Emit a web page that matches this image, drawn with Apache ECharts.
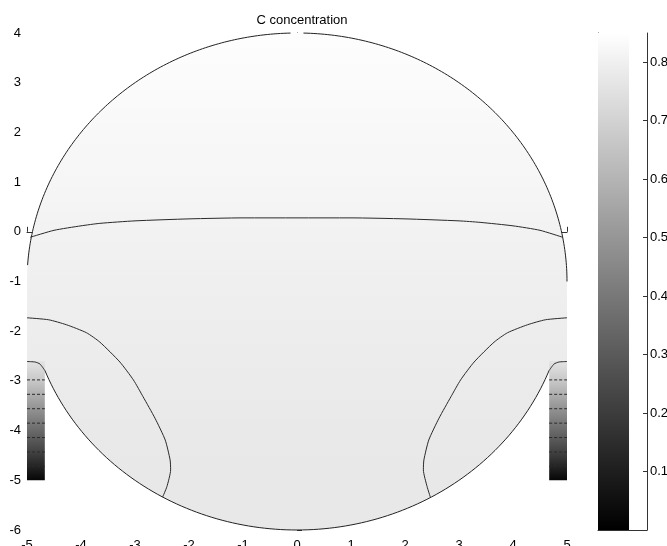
<!DOCTYPE html>
<html>
<head>
<meta charset="utf-8">
<script src="https://cdn.jsdelivr.net/npm/echarts@6/dist/echarts.min.js"></script>
<style>
  html, body { margin: 0; padding: 0; background: #fff; }
  #chart { width: 667px; height: 546px; }
</style>
</head>
<body>
<div id="chart"></div>
<script>
// 刻度
const xTicks = [-5, -4, -3, -2, -1, 0, 1, 2, 3, 4, 5];
const yTicks = [-6, -5, -4, -3, -2, -1, 0, 1, 2, 3, 4];
const cbarTicks = [0.1, 0.2, 0.3, 0.4, 0.5, 0.6, 0.7, 0.8];
const cbarMin = 0;
const cbarMax = 0.85;

// C 在圆内的竖直分布 (从图中颜色估读)
const profileY = [4, 3, 2, 1, 0.27, -1, -2, -3, -4, -5, -6];
const profileC = [0.842, 0.836, 0.828, 0.82, 0.81, 0.797, 0.789, 0.783, 0.778, 0.774, 0.772];

// 通道内的 C 分布
const channelY = [-2.6, -2.98, -3.27, -3.56, -3.85, -4.14, -4.43, -4.72, -5.0];
const channelC = [0.76, 0.67, 0.58, 0.49, 0.40, 0.31, 0.22, 0.12, 0.02];

// 等值线
const contourMid = [[-4.94, -0.11], [-4.5, 0.03], [-4, 0.12], [-3.65, 0.17], [-3, 0.22], [-2, 0.26], [-1, 0.28],
  [0, 0.28], [1, 0.28], [2, 0.26], [3, 0.22], [3.39, 0.19], [4, 0.12], [4.5, 0.03], [4.92, -0.11]];
const contourLeft = [[-5, -1.73], [-4.6, -1.77], [-4.27, -1.87], [-3.9, -2.03], [-3.65, -2.22], [-3.28, -2.62],
  [-3.03, -2.98], [-2.85, -3.32], [-2.63, -3.75], [-2.44, -4.19], [-2.35, -4.59], [-2.34, -4.79], [-2.41, -5.13], [-2.49, -5.34]];
const contourRight = [[5, -1.73], [4.6, -1.77], [4.27, -1.87], [3.9, -2.03], [3.65, -2.22], [3.28, -2.62],
  [3.03, -2.98], [2.85, -3.32], [2.63, -3.75], [2.44, -4.19], [2.35, -4.59], [2.34, -4.79], [2.41, -5.13], [2.47, -5.34]];
const capLeft = [[-5, -2.61], [-4.85, -2.62], [-4.76, -2.66], [-4.67, -2.79]];
const capRight = [[5, -2.61], [4.85, -2.62], [4.76, -2.66], [4.67, -2.79]];
const channelContourY = [-2.98, -3.27, -3.56, -3.85, -4.14, -4.43, -4.72];

// 几何
const circleCenter = [0, -1];
const circleRadius = 5;
const channels = [[-5, -4.67], [4.67, 5]];
const channelTop = -2.6;
const channelBottom = -5;
const sideStrips = [[-5, -4.6], [4.6, 5]];
const sideTop = -1.0;
const sideBottom = -2.8;
const boundaryArcs = [
  [[0.12, 4], [5, -1]],
  [[-0.12, 4], [-4.99, -0.67]],
  [[-4.67, -2.79], [4.67, -2.79]]
];

const font = 'Liberation Sans, Arial, sans-serif';

function grayOf(c) {
  const g = Math.round(Math.max(0, Math.min(1, (c - cbarMin) / (cbarMax - cbarMin))) * 255);
  return 'rgb(' + g + ',' + g + ',' + g + ')';
}

function gradientOf(api, ys, cs) {
  const top = api.coord([0, ys[0]])[1];
  const bottom = api.coord([0, ys[ys.length - 1]])[1];
  const span = ys[0] - ys[ys.length - 1];
  const stops = ys.map((y, i) => ({ offset: (ys[0] - y) / span, color: grayOf(cs[i]) }));
  return new echarts.graphic.LinearGradient(0, top, 0, bottom, stops, true);
}

function circlePoint(a) {
  return [circleCenter[0] + circleRadius * Math.cos(a), circleCenter[1] + circleRadius * Math.sin(a)];
}

function arcPoints(api, from, to, steps) {
  const a0 = Math.atan2(from[1] - circleCenter[1], from[0] - circleCenter[0]);
  const a1 = Math.atan2(to[1] - circleCenter[1], to[0] - circleCenter[0]);
  const pts = [];
  for (let i = 0; i <= steps; i++) {
    pts.push(api.coord(circlePoint(a0 + (a1 - a0) * i / steps)));
  }
  return pts;
}

function rectOf(api, x0, x1, y0, y1, fill) {
  const p0 = api.coord([x0, y1]);
  const p1 = api.coord([x1, y0]);
  return { type: 'rect', shape: { x: p0[0], y: p0[1], width: p1[0] - p0[0], height: p1[1] - p0[1] }, style: { fill: fill } };
}

function renderField(params, api) {
  const fieldFill = gradientOf(api, profileY, profileC);
  const channelFill = gradientOf(api, channelY, channelC);
  const children = [];
  const circle = [];
  for (let i = 0; i < 240; i++) circle.push(api.coord(circlePoint(i / 240 * Math.PI * 2)));
  children.push({ type: 'polygon', shape: { points: circle }, style: { fill: fieldFill } });
  sideStrips.forEach(s => children.push(rectOf(api, s[0], s[1], sideBottom, sideTop, fieldFill)));
  channels.forEach(c => children.push(rectOf(api, c[0], c[1], channelBottom, channelTop, channelFill)));
  boundaryArcs.forEach(arc => {
    children.push({
      type: 'polyline',
      shape: { points: arcPoints(api, arc[0], arc[1], 120) },
      style: { stroke: '#222', lineWidth: 1, fill: null }
    });
  });
  return { type: 'group', children: children };
}

function renderColorbar(params, api) {
  const p0 = api.coord([0, cbarMax]);
  const p1 = api.coord([0.633, cbarMin]);
  return {
    type: 'rect',
    shape: { x: p0[0], y: p0[1], width: p1[0] - p0[0], height: p1[1] - p0[1] },
    style: {
      fill: new echarts.graphic.LinearGradient(0, 0, 0, 1, [
        { offset: 0, color: grayOf(cbarMax) },
        { offset: 1, color: grayOf(cbarMin) }
      ])
    }
  };
}

function contourSeries(data, dashed) {
  return {
    type: 'line',
    xAxisIndex: 0,
    yAxisIndex: 0,
    data: data,
    smooth: dashed ? false : 0.2,
    showSymbol: false,
    silent: true,
    z: 5,
    lineStyle: { color: '#2a2a2a', width: 1, type: dashed ? [3, 2] : 'solid' }
  };
}

const channelLines = [];
channelContourY.forEach(y => {
  channels.forEach(c => channelLines.push(contourSeries([[c[0], y], [c[1], y]], true)));
});

const axisLineStyle = { color: '#333', width: 1 };
const labelStyle = { color: '#000', fontSize: 13, fontFamily: font };

const chart = echarts.init(document.getElementById('chart'));
chart.setOption({
  animation: false,
  backgroundColor: '#fff',
  title: {
    text: 'C concentration',
    left: 297,
    top: 9,
    textAlign: 'center',
    textStyle: { fontSize: 13, fontWeight: 'normal', color: '#000', fontFamily: font }
  },
  grid: [
    { left: 27, right: 100, top: 33, bottom: 16, containLabel: false, outerBoundsMode: 'none' },
    { left: 598, right: 20, top: 33, bottom: 16, containLabel: false, outerBoundsMode: 'none' }
  ],
  xAxis: [
    {
      type: 'value', gridIndex: 0, min: xTicks[0], max: xTicks[xTicks.length - 1], interval: 1,
      axisLine: { show: true, lineStyle: axisLineStyle },
      axisTick: { show: true, inside: true, length: 5, lineStyle: axisLineStyle },
      axisLabel: Object.assign({ margin: 9, showMinLabel: true, showMaxLabel: true }, labelStyle),
      splitLine: { show: false }
    },
    {
      type: 'value', gridIndex: 1, min: 0, max: 1,
      axisLine: { show: true, lineStyle: axisLineStyle },
      axisTick: { show: false },
      axisLabel: { show: false },
      splitLine: { show: false }
    }
  ],
  yAxis: [
    {
      type: 'value', gridIndex: 0, min: yTicks[0], max: yTicks[yTicks.length - 1], interval: 1,
      axisLine: { show: true, lineStyle: axisLineStyle },
      axisTick: { show: true, inside: true, length: 5, lineStyle: axisLineStyle },
      axisLabel: Object.assign({ margin: 6 }, labelStyle),
      splitLine: { show: false }
    },
    {
      type: 'value', gridIndex: 1, position: 'left', min: cbarMin, max: cbarMax, interval: 0.1,
      axisLine: { show: true, onZero: false, lineStyle: axisLineStyle },
      axisTick: { show: true, inside: true, length: 4, customValues: cbarTicks, lineStyle: axisLineStyle },
      axisLabel: { show: false },
      splitLine: { show: false }
    },
    {
      type: 'value', gridIndex: 1, position: 'right', min: cbarMin, max: cbarMax, interval: 0.1,
      axisLine: { show: true, onZero: false, lineStyle: axisLineStyle },
      axisTick: { show: true, inside: true, length: 4, customValues: cbarTicks, lineStyle: axisLineStyle },
      axisLabel: Object.assign({ margin: 3, customValues: cbarTicks, formatter: v => v.toFixed(1) }, labelStyle),
      splitLine: { show: false }
    }
  ],
  series: [
    {
      type: 'custom',
      xAxisIndex: 0,
      yAxisIndex: 0,
      renderItem: renderField,
      data: [[0, 0]],
      silent: true,
      clip: false,
      z: 1
    },
    {
      type: 'custom',
      xAxisIndex: 1,
      yAxisIndex: 1,
      renderItem: renderColorbar,
      data: [[0, 0]],
      silent: true,
      z: 1
    },
    contourSeries(contourMid, false),
    contourSeries(contourLeft, false),
    contourSeries(contourRight, false),
    contourSeries(capLeft, false),
    contourSeries(capRight, false)
  ].concat(channelLines)
});

window.addEventListener('resize', () => {
  chart.resize();
});
</script>
</body>
</html>
